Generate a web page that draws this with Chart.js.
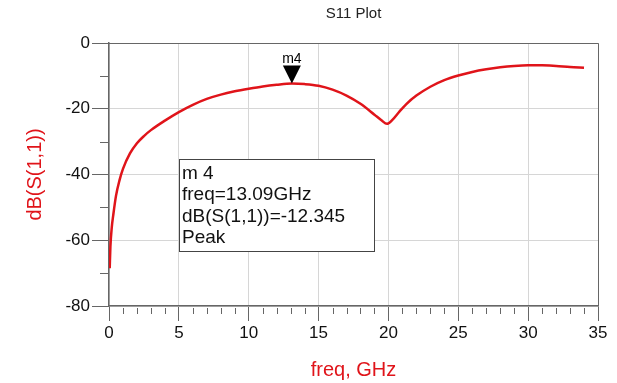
<!DOCTYPE html>
<html>
<head>
<meta charset="utf-8">
<script src="https://cdn.jsdelivr.net/npm/chart.js@4/dist/chart.umd.min.js"></script>
<style>
  html, body { margin: 0; padding: 0; background: #fff; }
  #wrap { width: 617px; height: 383px; }
</style>
</head>
<body>
<div id="wrap"><canvas id="s11Chart"></canvas></div>
<script>
// S11 Kurve
const freqGHz = [0.05, 0.1, 0.2, 0.3, 0.5, 0.75, 1.0, 1.5, 2.0, 2.5, 3.0, 4.0, 5.0, 6.0, 7.0, 8.0, 9.0, 10.0, 11.0, 12.0, 13.09, 14.0, 15.0, 16.0, 17.0, 18.0, 19.0, 19.5, 19.9, 20.3, 20.8, 21.3, 22.0, 23.0, 24.0, 25.0, 26.0, 27.0, 28.0, 29.0, 30.0, 31.0, 32.0, 33.0, 34.0];
const s11dB   = [-68.5, -62, -56, -52.5, -46.5, -41.8, -38.3, -33.6, -30.5, -28.3, -26.5, -23.6, -21.0, -18.8, -17.0, -15.7, -14.7, -13.9, -13.2, -12.7, -12.345, -12.5, -13.0, -14.2, -16.0, -18.5, -21.8, -23.5, -24.6, -23.3, -20.8, -18.5, -16.0, -13.3, -11.3, -9.9, -8.8, -8.0, -7.4, -7.0, -6.8, -6.8, -7.0, -7.3, -7.5];

const xMajorTicks = [0, 5, 10, 15, 20, 25, 30, 35];
const yMajorTicks = [0, -20, -40, -60, -80];
const xMinorTicks = [1, 2, 3, 4, 6, 7, 8, 9, 11, 12, 13, 14, 16, 17, 18, 19, 21, 22, 23, 24, 26, 27, 28, 29, 31, 32, 33, 34];
const yMinorTicks = [-10, -30, -50, -70];

const markerName = "m4";
const markerFreq = 13.09;
const markerDb = -12.345;
const markerKind = "Peak";

const FONT = "'Liberation Sans', Arial, sans-serif";
const RED = "#e0141a";
const AXIS = "#666";
const GRID = "#d6d6d6";

// Rahmen, Nebenstriche, Marker und Markerbox
const extras = {
  id: "extras",
  afterDatasetsDraw(chart) {
    const { ctx, chartArea: a, scales: { x, y } } = chart;
    ctx.save();

    // Nebenstriche
    ctx.strokeStyle = AXIS;
    ctx.lineWidth = 1;
    ctx.beginPath();
    xMinorTicks.forEach(v => {
      const px = Math.round(x.getPixelForValue(v)) + 0.5;
      ctx.moveTo(px, a.bottom + 2);
      ctx.lineTo(px, a.bottom + 8);
    });
    yMinorTicks.forEach(v => {
      const py = Math.round(y.getPixelForValue(v)) + 0.5;
      ctx.moveTo(a.left - 9, py);
      ctx.lineTo(a.left, py);
    });
    ctx.stroke();

    // Rahmen oben/rechts
    ctx.strokeStyle = "#666";
    ctx.beginPath();
    ctx.moveTo(a.left, Math.round(a.top) + 0.5);
    ctx.lineTo(Math.round(a.right) + 0.5, Math.round(a.top) + 0.5);
    ctx.lineTo(Math.round(a.right) + 0.5, a.bottom);
    ctx.stroke();

    // Marker-Dreieck
    const mx = x.getPixelForValue(markerFreq);
    const my = y.getPixelForValue(markerDb);
    ctx.fillStyle = "#000";
    ctx.beginPath();
    ctx.moveTo(mx, my);
    ctx.lineTo(mx - 9, my - 18);
    ctx.lineTo(mx + 9, my - 18);
    ctx.closePath();
    ctx.fill();
    ctx.font = "14px " + FONT;
    ctx.textAlign = "center";
    ctx.textBaseline = "alphabetic";
    ctx.fillText(markerName, mx, my - 21);

    // Markerbox
    const bx = a.left + 70, bTop = a.top + 116, bw = 195, bh = 92;
    ctx.fillStyle = "#fff";
    ctx.fillRect(bx, bTop, bw, bh);
    ctx.strokeStyle = "#444";
    ctx.strokeRect(bx + 0.5, bTop + 0.5, bw, bh);
    ctx.fillStyle = "#111";
    ctx.textAlign = "left";
    ctx.font = "19px " + FONT;
    const lines = [
      markerName.split("").join(" "),
      "freq=" + markerFreq.toFixed(2) + "GHz",
      "dB(S(1,1))=" + markerDb.toFixed(3),
      markerKind
    ];
    lines.forEach((t, i) => ctx.fillText(t, bx + 3, bTop + 20 + i * 21.3));
    ctx.restore();
  }
};

new Chart(document.getElementById("s11Chart"), {
  type: "scatter",
  data: {
    datasets: [{
      label: "dB(S(1,1))",
      data: freqGHz.map((f, i) => ({ x: f, y: s11dB[i] })),
      showLine: true,
      borderColor: RED,
      borderWidth: 2.5,
      pointRadius: 0,
      cubicInterpolationMode: "monotone",
      fill: false
    }]
  },
  options: {
    responsive: true,
    maintainAspectRatio: false,
    animation: false,
    layout: { padding: { left: 0, right: 19, top: 0, bottom: 0 } },
    plugins: {
      legend: { display: false },
      tooltip: { enabled: false },
      title: {
        display: true,
        text: "S11 Plot",
        fullSize: false,
        color: "#222",
        font: { family: FONT, size: 15, weight: "normal" },
        padding: { top: 5, bottom: 20 }
      }
    },
    scales: {
      x: {
        type: "linear",
        min: 0, max: 35,
        afterBuildTicks: s => { s.ticks = xMajorTicks.map(v => ({ value: v })); },
        afterFit: s => { s.height = 77; },
        ticks: { color: "#111", font: { family: FONT, size: 17 }, padding: 2, maxRotation: 0 },
        grid: { color: GRID, tickColor: AXIS, tickLength: 15, lineWidth: 1 },
        border: { color: AXIS, width: 1.5 },
        title: {
          display: true,
          text: "freq, GHz",
          color: RED,
          font: { family: FONT, size: 20 },
          padding: { top: 0, bottom: 1 }
        }
      },
      y: {
        type: "linear",
        min: -80, max: 0,
        afterBuildTicks: s => { s.ticks = yMajorTicks.map(v => ({ value: v })); },
        afterFit: s => { s.width = 109; },
        ticks: { color: "#111", font: { family: FONT, size: 17 }, padding: 2 },
        grid: { color: GRID, tickColor: AXIS, tickLength: 17, lineWidth: 1 },
        border: { color: AXIS, width: 1.5 },
        title: {
          display: true,
          text: "dB(S(1,1))",
          color: RED,
          font: { family: FONT, size: 20 },
          padding: { top: 23, bottom: 0 }
        }
      }
    }
  },
  plugins: [extras]
});
</script>
</body>
</html>
